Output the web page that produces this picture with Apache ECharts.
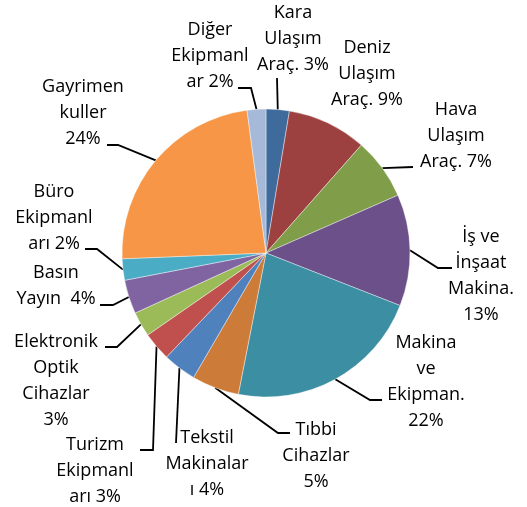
<!DOCTYPE html>
<html>
<head>
<meta charset="utf-8">
<script src="https://cdn.jsdelivr.net/npm/echarts@6/dist/echarts.min.js"></script>
<style>
  html, body { margin: 0; padding: 0; background: #fff; }
  #chart { width: 527px; height: 507px; }
</style>
</head>
<body>
<div id="chart"></div>
<script>
// dilim adları (saat yönünde, tepeden başlayarak)
const names = [
  'Kara Ulaşım Araç.', 'Deniz Ulaşım Araç.', 'Hava Ulaşım Araç.', 'İş ve İnşaat Makina.',
  'Makina ve Ekipman.', 'Tıbbi Cihazlar', 'Tekstil Makinaları', 'Turizm Ekipmanları',
  'Elektronik Optik Cihazlar', 'Basın Yayın', 'Büro Ekipmanları', 'Gayrimenkuller', 'Diğer Ekipmanlar'
]
// paylar (%) – resimden okunan açılar
const values = [2.6, 8.9, 6.9, 12.5, 22.1, 5.3, 3.75, 3.2, 2.8, 3.8, 2.4, 23.5, 2.1]
// etiket metinleri (Excel'deki satır kırılımlarıyla)
const labels = [
  'Kara\nUlaşım\nAraç. 3%', 'Deniz\nUlaşım\nAraç. 9%', 'Hava\nUlaşım\nAraç. 7%',
  'İş ve\nİnşaat\nMakina.\n13%', 'Makina\nve\nEkipman.\n22%', 'Tıbbi\nCihazlar\n5%',
  'Tekstil\nMakinalar\nı 4%', 'Turizm\nEkipmanl\narı 3%', 'Elektronik\nOptik\nCihazlar\n3%',
  'Basın\nYayın  4%', 'Büro\nEkipmanl\narı 2%', 'Gayrimen\nkuller\n24%', 'Diğer\nEkipmanl\nar 2%'
]
const colors = [
  '#3f6a9c', '#9d4140', '#809d4a', '#6b5089', '#3c8ea3', '#cd7b38',
  '#4f81bd', '#c0504d', '#9bbb59', '#8064a2', '#4bacc6', '#f79646', '#a7b9d9'
]

// etiket konumları: [merkez x, üst y]
const labelPos = [
  [293, 0], [367, 35], [456, 97], [481, 224], [426, 330], [316, 417],
  [207, 425], [95, 432], [56, 329], [56, 260], [54, 179], [83, 74], [210, 17]
]
// kılavuz çizgisinin kırılma ve bitiş noktaları (null = çizgi yok)
const leader = [
  [[277, 78], [277, 78]],
  null,
  [[413, 167], [413, 167]],
  [[438, 268], [452, 268]],
  [[370, 400], [382, 400]],
  [[278, 433], [290, 433]],
  [[176, 443], [176, 443]],
  [[153, 450], [140, 450]],
  [[117, 347], [105, 347]],
  [[113, 305], [100, 305]],
  [[97, 249], [85, 249]],
  [[118, 145], [107, 145]],
  [[251, 88], [238, 88]]
]

const chart = echarts.init(document.getElementById('chart'))

const option = {
  animation: false,
  color: colors,
  series: [{
    type: 'pie',
    center: [266, 253],
    radius: 144,
    startAngle: 90,
    clockwise: true,
    avoidLabelOverlap: false,
    data: names.map((n, i) => ({
      name: n,
      value: values[i],
      labelLine: {show: leader[i] !== null}
    })),
    itemStyle: {borderColor: '#ffffff', borderWidth: 0.4},
    label: {
      show: true,
      position: 'outside',
      formatter: p => labels[p.dataIndex],
      fontFamily: 'Open Sans',
      fontSize: 18,
      lineHeight: 26,
      color: '#000'
    },
    labelLine: {
      show: true,
      length: 10,
      length2: 10,
      lineStyle: {color: '#000', width: 1.8}
    },
    labelLayout: params => {
      const i = params.dataIndex
      const res = {
        x: labelPos[i][0],
        y: labelPos[i][1],
        align: 'center',
        verticalAlign: 'top'
      }
      if (leader[i] && params.labelLinePoints) {
        res.labelLinePoints = [params.labelLinePoints[0], leader[i][0], leader[i][1]]
      }
      return res
    }
  }]
}

chart.setOption(option)
</script>
</body>
</html>
